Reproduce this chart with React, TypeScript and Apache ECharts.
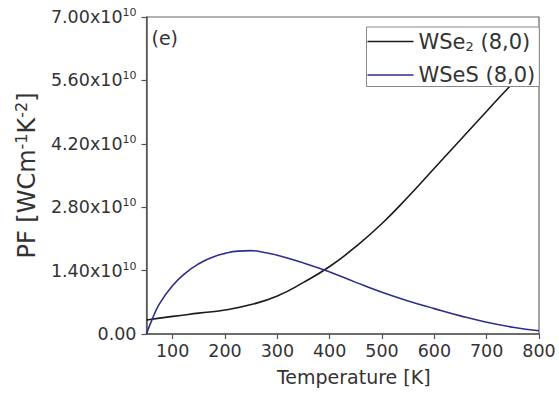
import React, { useEffect, useRef } from "react";
import * as echarts from "echarts";

const tempsWSe2 = [50, 100, 150, 200, 250, 300, 350, 400, 450, 500, 550, 600, 650, 700, 750, 800];
const pfWSe2 = [0.31, 0.39, 0.46, 0.53, 0.65, 0.84, 1.14, 1.49, 1.93, 2.44, 3.03, 3.66, 4.29, 4.92, 5.54, 6.12];

const tempsWSeS = [50, 60, 75, 100, 125, 150, 175, 200, 225, 250, 275, 300, 350, 400, 450, 500, 550, 600, 650, 700, 750, 800];
const pfWSeS = [0.0, 0.30, 0.67, 1.07, 1.35, 1.55, 1.69, 1.78, 1.83, 1.84, 1.80, 1.74, 1.57, 1.37, 1.14, 0.92, 0.73, 0.56, 0.40, 0.26, 0.15, 0.07];

const xTicks = [100, 200, 300, 400, 500, 600, 700, 800];
const seriesNames = ["WSe2 (8,0)", "WSeS (8,0)"];

const FONT = "DejaVu Sans";
const TXT = "#333";

export default function App() {
  const ref = useRef<HTMLDivElement>(null);
  useEffect(() => {
    if (!ref.current) return;
    const chart = echarts.init(ref.current, null, { renderer: "svg" });
    const toPairs = (xs: number[], ys: number[]) => xs.map((x, i) => [x, ys[i] * 1e10]);
    chart.setOption({
      animation: false,
      backgroundColor: "#fff",
      grid: {
        left: 146.5,
        right: 20,
        top: 17,
        bottom: 63,
        show: true,
        borderColor: "#666",
        borderWidth: 1.2,
        backgroundColor: "transparent",
      },
      legend: {
        orient: "vertical",
        left: 366.5,
        top: 27,
        data: seriesNames,
        icon: "rect",
        itemWidth: 46,
        itemHeight: 1.6,
        itemGap: 12,
        padding: [4, 4, 1, 1],
        borderColor: "#888",
        borderWidth: 1,
        backgroundColor: "#fff",
        formatter: (name: string) =>
          name === seriesNames[0] ? "{a|WSe}{sub|2}{a| (8,0)}" : "{a|WSeS (8,0)}",
        textStyle: {
          rich: {
            a: { fontSize: 21, fontFamily: FONT, color: TXT, lineHeight: 22 },
            sub: { fontSize: 13, fontFamily: FONT, color: TXT, verticalAlign: "bottom", lineHeight: 14 },
          },
        },
      },
      graphic: [
        {
          type: "text",
          x: 151.5,
          y: 38,
          z: 10,
          style: {
            text: "(e)",
            font: `19px "${FONT}"`,
            fill: TXT,
            verticalAlign: "middle",
            align: "left",
          },
        },
      ],
      xAxis: {
        type: "value",
        min: 50,
        max: 800,
        name: "Temperature [K]",
        nameLocation: "middle",
        nameGap: 33,
        nameTextStyle: {
          fontSize: 19,
          fontFamily: FONT,
          color: TXT,
          padding: [0, 0, 0, 22],
        },
        axisLine: { show: true, lineStyle: { color: "#555", width: 1.5 } },
        axisTick: { show: true, inside: false, length: 5, lineStyle: { color: "#555", width: 1.2 }, customValues: xTicks },
        axisLabel: {
          customValues: xTicks,
          margin: 8,
          fontSize: 17.5,
          fontFamily: FONT,
          color: TXT,
        },
        splitLine: { show: false },
      },
      yAxis: {
        type: "value",
        min: 0,
        max: 7e10,
        interval: 1.4e10,
        name: "{m|PF [WCm}{s|-1}{m|K}{s|-2}{m|]}",
        nameLocation: "middle",
        nameGap: 106,
        nameRotate: 90,
        nameTextStyle: {
          rich: {
            m: { fontSize: 24, fontFamily: FONT, color: TXT, lineHeight: 27 },
            s: { fontSize: 16, fontFamily: FONT, color: TXT, verticalAlign: "top", lineHeight: 16 },
          },
        },
        axisLine: { show: true, lineStyle: { color: "#555", width: 1.5 } },
        axisTick: { show: true, inside: false, length: 5, lineStyle: { color: "#555", width: 1.2 } },
        axisLabel: {
          margin: 10,
          formatter: (v: number) =>
            v === 0 ? "{m|0.00}" : `{m|${(v / 1e10).toFixed(2)}x10}{s|10}`,
          rich: {
            m: { fontSize: 17.5, fontFamily: FONT, color: TXT, lineHeight: 20 },
            s: { fontSize: 11, fontFamily: FONT, color: TXT, verticalAlign: "top", lineHeight: 11 },
          },
        },
        splitLine: { show: false },
      },
      series: [
        {
          name: seriesNames[0],
          type: "line",
          data: toPairs(tempsWSe2, pfWSe2),
          smooth: 0.5,
          showSymbol: false,
          symbol: "none",
          color: "#1a1a1a",
          lineStyle: { color: "#1a1a1a", width: 1.6 },
        },
        {
          name: seriesNames[1],
          type: "line",
          data: toPairs(tempsWSeS, pfWSeS),
          smooth: 0.5,
          showSymbol: false,
          symbol: "none",
          color: "#2e2e8c",
          lineStyle: { color: "#2e2e8c", width: 1.6 },
        },
      ],
    });
    return () => chart.dispose();
  }, []);
  return (
    <div
      ref={ref}
      style={{ position: "absolute", left: 0, top: 0, width: 559, height: 397 }}
    />
  );
}
